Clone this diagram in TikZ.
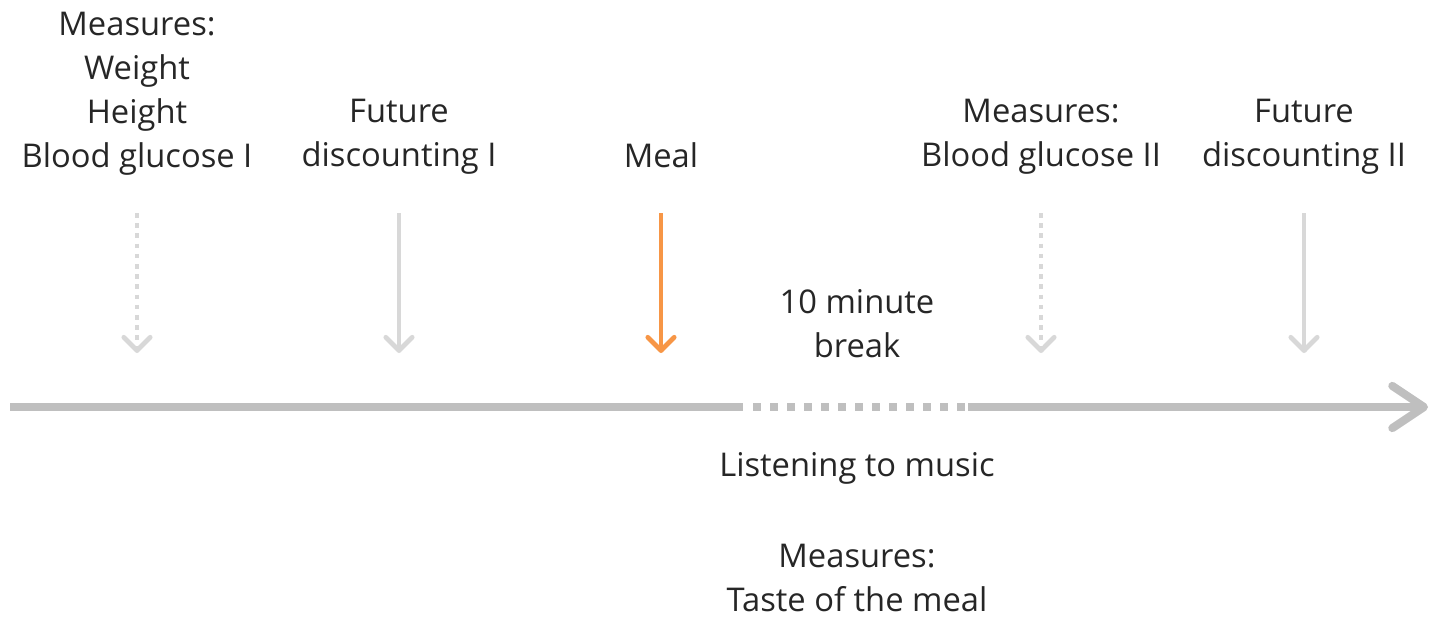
\documentclass[tikz,border=0pt]{standalone}
\usepackage{fontspec}
\setmainfont{Open Sans}
\usetikzlibrary{arrows.meta,positioning}
\definecolor{axisgray}{RGB}{191,191,191}
\definecolor{tickgray}{RGB}{216,216,216}
\definecolor{mealorange}{RGB}{247,150,70}
\definecolor{textgray}{RGB}{38,38,38}

\begin{document}
\begin{tikzpicture}[x=0.01cm,y=-0.01cm,
  lbl/.style={align=center,text=textgray,inner sep=0pt,font=\fontsize{9.3}{12.5}\selectfont},
  tick/.style={line width=1.35pt,tickgray,-{Straight Barb[round,length=3.8pt,width=7.5pt]}},
  dottick/.style={tick,dash pattern=on 1.3pt off 1.6pt},
  axis/.style={line width=2.3pt,axisgray}]
\useasboundingbox (0,0) rectangle (1436,617);

% labels above the time line
\node[lbl] (meas1) at (137,94) {Measures:\\Weight\\Height\\Blood glucose I};
\node[lbl] (fut1) at (399,137) {Future\\discounting I};
\node[lbl] (meal) at (661,155) {Meal};
\node[lbl] (meas2) at (1041,137) {Measures:\\Blood glucose II};
\node[lbl] (fut2) at (1304,137) {Future\\discounting II};

% arrow ends
\coordinate (a1) at (137,213); \coordinate (b1) at (137,353);
\coordinate (a2) at (399,213); \coordinate (b2) at (399,353);
\coordinate (a3) at (661,213); \coordinate (b3) at (661,353);
\coordinate (a4) at (1041,213); \coordinate (b4) at (1041,353);
\coordinate (a5) at (1304,213); \coordinate (b5) at (1304,353);

\draw[dottick] (a1) -- (b1);
\draw[tick] (a2) -- (b2);
\draw[tick,mealorange] (a3) -- (b3);
\draw[dottick] (a4) -- (b4);
\draw[tick] (a5) -- (b5);

% time line
\coordinate (start) at (10,407);
\coordinate (brk1) at (743,407);
\coordinate (dot1) at (753,407);
\coordinate (dot2) at (965,407);
\coordinate (brk2) at (968,407);
\coordinate (tip) at (1428,407);
\draw[axis] (start) -- (brk1);
\draw[axis,dash pattern=on 2.28pt off 2.56pt] (dot1) -- (dot2);
\draw[axis,-{Straight Barb[round,length=9pt,width=12pt]}] (brk2) -- (tip);

% break and below the line
\node[lbl] (brk) at (857,324) {10 minute\\break};
\node[lbl] (music) at (857,468) {Listening to music};
\node[lbl] (taste) at (857,578) {Measures:\\Taste of the meal};
\end{tikzpicture}
\end{document}
